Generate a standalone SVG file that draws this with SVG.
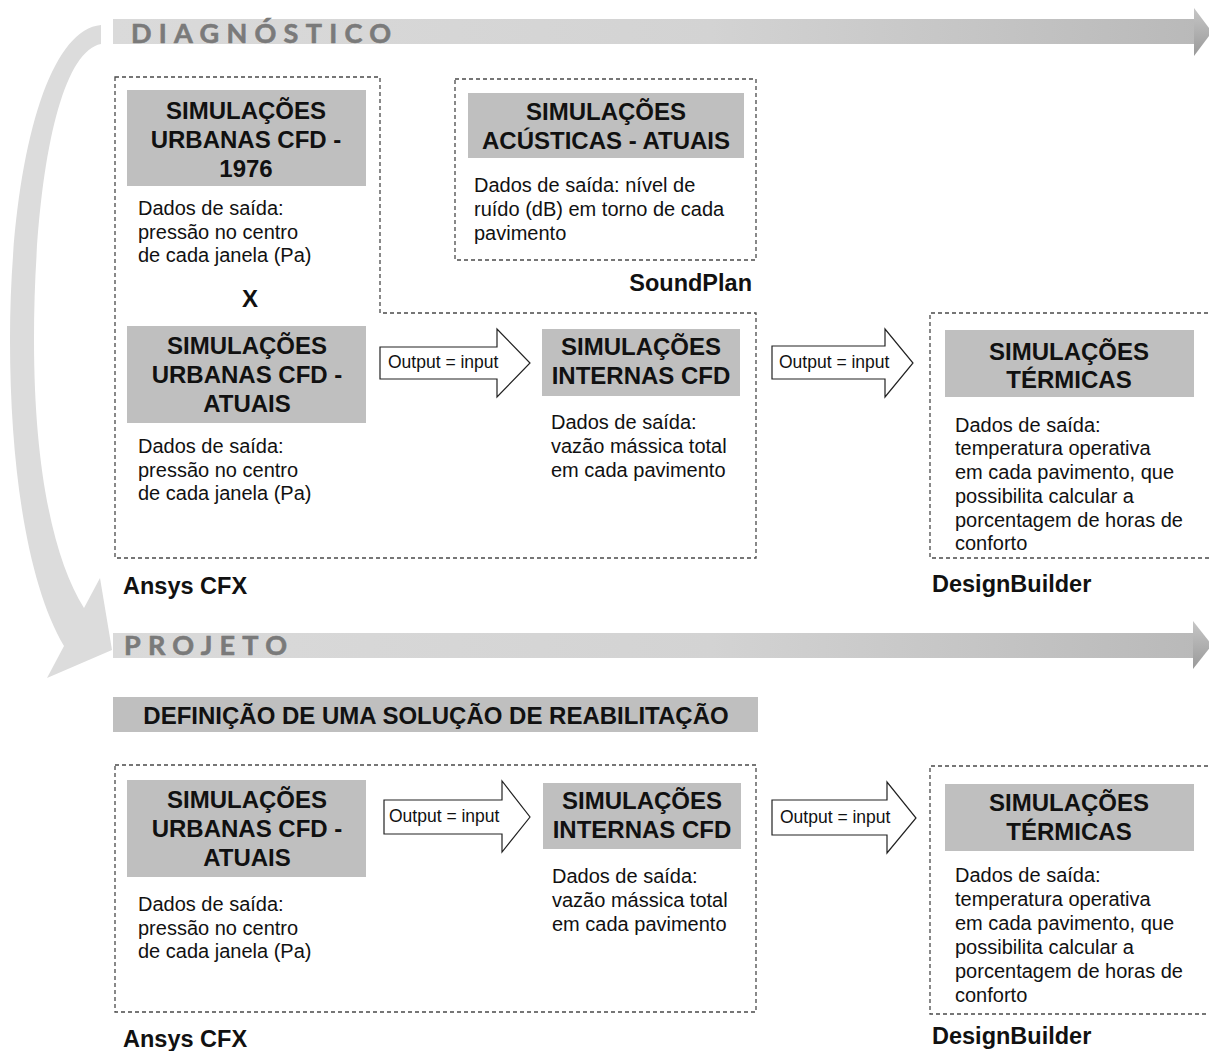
<svg xmlns="http://www.w3.org/2000/svg" width="1209" height="1051" viewBox="0 0 1209 1051">
<style>
.dash{fill:none;stroke:#4a4a4a;stroke-width:1.3;stroke-dasharray:4 3}
.tbox{fill:#bfbfbf}
.title{font-family:"Liberation Sans",Arial,sans-serif;font-weight:bold;font-size:24px;fill:#111;text-anchor:middle}
.body{font-family:"Liberation Sans",Arial,sans-serif;font-size:20px;fill:#111}
.tool{font-family:"Liberation Sans",Arial,sans-serif;font-weight:bold;font-size:23.5px;fill:#111}
.lbl{font-family:"Liberation Sans",Arial,sans-serif;font-size:17.5px;fill:#111}
.barr{fill:#fff;stroke:#222;stroke-width:1.2}
.phase{font-family:Lato,"Open Sans",sans-serif;font-weight:bold;font-size:27px;fill:#7a7a7a;stroke:#7a7a7a;stroke-width:0.6}
</style>
<defs>
<linearGradient id="band" gradientUnits="userSpaceOnUse" x1="113" y1="0" x2="1200" y2="0">
<stop offset="0" stop-color="#dadada"/><stop offset="0.55" stop-color="#d3d3d3"/><stop offset="1" stop-color="#b9b9b9"/>
</linearGradient>
<linearGradient id="head" x1="0" y1="0" x2="0" y2="1">
<stop offset="0" stop-color="#c6c6c6"/><stop offset="1" stop-color="#9a9a9a"/>
</linearGradient>
</defs>

<g id="phase-diagnostico">
<rect x="113" y="19" width="1082" height="25" fill="url(#band)"/>
<polygon points="1194,8 1212,32 1194,56" fill="url(#head)"/>
<text class="phase" x="131" y="43" textLength="260" lengthAdjust="spacing">DIAGNÓSTICO</text>
</g>

<g id="phase-projeto">
<rect x="113" y="633" width="1082" height="25" fill="url(#band)"/>
<polygon points="1193,621 1212,645 1193,669" fill="url(#head)"/>
<text class="phase" x="124" y="655" textLength="163" lengthAdjust="spacing">PROJETO</text>
</g>

<g id="loop-arrow">
<path d="M101 25 C45 30 10 170 10 340 C10 470 28 585 64 646 L47 678 L112 650 L100 578 L84 608 C54 560 34 470 34 340 C34 185 58 52 101 44 Z" fill="#dcdcdc"/>
</g>

<g id="connectors">
<path class="barr" d="M380 347 H497 V329 L530 363 L497 397 V379 H380 Z"/>
<text class="lbl" x="388" y="368">Output = input</text>
<path class="barr" d="M772 346 H885 V329 L913 363 L885 397 V379 H772 Z"/>
<text class="lbl" x="779" y="368">Output = input</text>
<path class="barr" d="M384 800 H502 V781 L530 817 L502 852 V834 H384 Z"/>
<text class="lbl" x="389" y="822">Output = input</text>
<path class="barr" d="M772 800 H887 V782 L916 818 L887 853 V835 H772 Z"/>
<text class="lbl" x="780" y="823">Output = input</text>
</g>

<g id="group-ansys-diag">
<path class="dash" d="M115 77 H380 V313 H756 V558 H115 Z"/>
<text class="tool" x="123" y="594">Ansys CFX</text>
</g>

<g id="node-urbanas-1976">
<rect class="tbox" x="127" y="90" width="239" height="96"/>
<text class="title" x="246" y="119">SIMULAÇÕES</text>
<text class="title" x="246" y="148">URBANAS CFD -</text>
<text class="title" x="246" y="177">1976</text>
<text class="body" x="138" y="215">Dados de saída:</text>
<text class="body" x="138" y="239">pressão no centro</text>
<text class="body" x="138" y="262">de cada janela (Pa)</text>
</g>

<text id="x-mark" class="title" x="250" y="307">X</text>

<g id="node-urbanas-atuais-diag">
<rect class="tbox" x="127" y="326" width="239" height="97"/>
<text class="title" x="247" y="354">SIMULAÇÕES</text>
<text class="title" x="247" y="383">URBANAS CFD -</text>
<text class="title" x="247" y="412">ATUAIS</text>
<text class="body" x="138" y="453">Dados de saída:</text>
<text class="body" x="138" y="477">pressão no centro</text>
<text class="body" x="138" y="500">de cada janela (Pa)</text>
</g>

<g id="node-acusticas">
<path class="dash" d="M455 79 H756 V260 H455 Z"/>
<rect class="tbox" x="468" y="93" width="276" height="65"/>
<text class="title" x="606" y="120">SIMULAÇÕES</text>
<text class="title" x="606" y="149">ACÚSTICAS - ATUAIS</text>
<text class="body" x="474" y="192">Dados de saída: nível de</text>
<text class="body" x="474" y="216">ruído (dB) em torno de cada</text>
<text class="body" x="474" y="240">pavimento</text>
<text class="tool" x="752" y="291" text-anchor="end">SoundPlan</text>
</g>

<g id="node-internas-diag">
<rect class="tbox" x="542" y="329" width="198" height="67"/>
<text class="title" x="641" y="355">SIMULAÇÕES</text>
<text class="title" x="641" y="384">INTERNAS CFD</text>
<text class="body" x="551" y="429">Dados de saída:</text>
<text class="body" x="551" y="453">vazão mássica total</text>
<text class="body" x="551" y="477">em cada pavimento</text>
</g>

<g id="node-termicas-diag">
<path class="dash" d="M1215 313 H930 V558 H1215"/>
<rect class="tbox" x="945" y="330" width="249" height="67"/>
<text class="title" x="1069" y="360">SIMULAÇÕES</text>
<text class="title" x="1069" y="388">TÉRMICAS</text>
<text class="body" x="955" y="432">Dados de saída:</text>
<text class="body" x="955" y="455">temperatura operativa</text>
<text class="body" x="955" y="479">em cada pavimento, que</text>
<text class="body" x="955" y="503">possibilita calcular a</text>
<text class="body" x="955" y="527">porcentagem de horas de</text>
<text class="body" x="955" y="550">conforto</text>
<text class="tool" x="932" y="592">DesignBuilder</text>
</g>

<g id="node-definicao">
<rect class="tbox" x="113" y="697" width="645" height="35"/>
<text class="title" x="436" y="724">DEFINIÇÃO DE UMA SOLUÇÃO DE REABILITAÇÃO</text>
</g>

<g id="group-ansys-proj">
<path class="dash" d="M115 765 H756 V1012 H115 Z"/>
<text class="tool" x="123" y="1047">Ansys CFX</text>
</g>

<g id="node-urbanas-atuais-proj">
<rect class="tbox" x="127" y="780" width="239" height="97"/>
<text class="title" x="247" y="808">SIMULAÇÕES</text>
<text class="title" x="247" y="837">URBANAS CFD -</text>
<text class="title" x="247" y="866">ATUAIS</text>
<text class="body" x="138" y="911">Dados de saída:</text>
<text class="body" x="138" y="935">pressão no centro</text>
<text class="body" x="138" y="958">de cada janela (Pa)</text>
</g>

<g id="node-internas-proj">
<rect class="tbox" x="543" y="783" width="198" height="66"/>
<text class="title" x="642" y="809">SIMULAÇÕES</text>
<text class="title" x="642" y="838">INTERNAS CFD</text>
<text class="body" x="552" y="883">Dados de saída:</text>
<text class="body" x="552" y="907">vazão mássica total</text>
<text class="body" x="552" y="931">em cada pavimento</text>
</g>

<g id="node-termicas-proj">
<path class="dash" d="M1215 766 H930 V1014 H1215"/>
<rect class="tbox" x="945" y="784" width="249" height="67"/>
<text class="title" x="1069" y="811">SIMULAÇÕES</text>
<text class="title" x="1069" y="840">TÉRMICAS</text>
<text class="body" x="955" y="882">Dados de saída:</text>
<text class="body" x="955" y="906">temperatura operativa</text>
<text class="body" x="955" y="930">em cada pavimento, que</text>
<text class="body" x="955" y="954">possibilita calcular a</text>
<text class="body" x="955" y="978">porcentagem de horas de</text>
<text class="body" x="955" y="1002">conforto</text>
<text class="tool" x="932" y="1044">DesignBuilder</text>
</g>
</svg>
